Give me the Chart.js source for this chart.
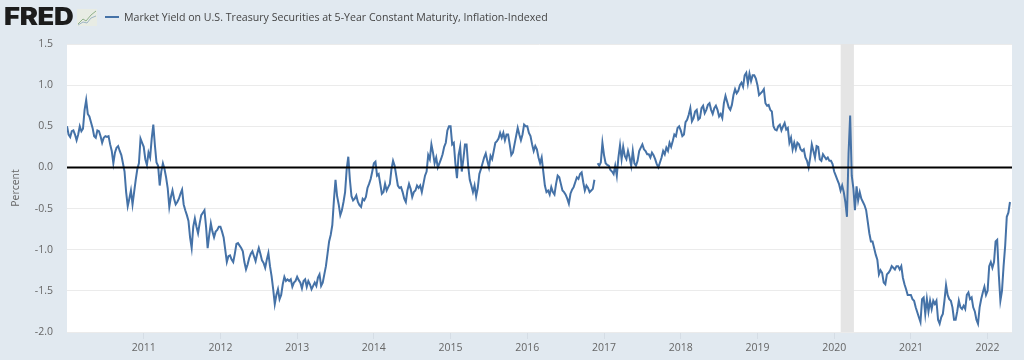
<!DOCTYPE html>
<html>
<head>
<meta charset="utf-8">
<title>Market Yield on U.S. Treasury Securities at 5-Year Constant Maturity, Inflation-Indexed</title>
<script src="https://cdn.jsdelivr.net/npm/chart.js@4/dist/chart.umd.min.js"></script>
<style>
    html, body { margin: 0; padding: 0; background: #e1e9f0; overflow: hidden; }
    #wrap { position: relative; width: 1024px; height: 360px; }
    #chart { position: absolute; left: 0; top: 0; }
    #logo { position: absolute; left: 4px; top: 2px; font: 900 24px Inter, "Liberation Sans", sans-serif; color: #1c1c1c; letter-spacing: -0.3px; line-height: 30px; transform-origin: left top; transform: scaleX(1.14); }
    #icon { position: absolute; left: 77px; top: 9px; }
    #swatch { position: absolute; left: 105px; top: 16px; width: 14px; height: 2px; background: #4572a7; }
    #legend { position: absolute; left: 124px; top: 9px; font: 10.6px "Open Sans", sans-serif; color: #444; line-height: 16px; white-space: nowrap; }
</style>
</head>
<body>
<div id="wrap">
    <canvas id="chart" width="1024" height="360"></canvas>
    <div id="logo">FRED</div>
    <svg id="icon" width="20" height="17">
        <rect width="20" height="17" fill="#e8ece4"/>
        <polyline points="1,15 6,10 9,12 14,6 19,2" fill="none" stroke="#8fb08a" stroke-width="1"/>
        <polyline points="1,16 6,13 10,14 14,9 19,7" fill="none" stroke="#9db5c4" stroke-width="1"/>
    </svg>
    <div id="swatch"></div>
    <div id="legend">Market Yield on U.S. Treasury Securities at 5-Year Constant Maturity, Inflation-Indexed</div>
</div>
<script>
// values, 48 readings per year
const y2010 = [0.50, 0.40, 0.37, 0.44, 0.45, 0.40, 0.33, 0.40, 0.50, 0.44, 0.47, 0.70, 0.82, 0.65, 0.62, 0.55, 0.48, 0.38, 0.36, 0.45, 0.44, 0.38, 0.30, 0.36, 0.38, 0.37, 0.38, 0.28, 0.20, 0.05, 0.18, 0.24, 0.26, 0.20, 0.15, 0.05, -0.05, -0.30, -0.47, -0.38, -0.28, -0.45, -0.30, -0.15, -0.02, 0.05, 0.35, 0.30];
const y2011 = [0.25, 0.10, 0.03, 0.18, 0.12, 0.35, 0.52, 0.27, 0.06, 0.02, -0.22, -0.05, 0.05, -0.02, -0.12, -0.25, -0.48, -0.36, -0.28, -0.38, -0.45, -0.42, -0.38, -0.32, -0.27, -0.45, -0.52, -0.58, -0.65, -0.85, -0.98, -0.72, -0.62, -0.72, -0.80, -0.68, -0.58, -0.55, -0.52, -0.72, -0.98, -0.82, -0.68, -0.78, -0.85, -0.78, -0.76, -0.72];
const y2012 = [-0.72, -0.78, -0.85, -1.00, -1.15, -1.08, -1.07, -1.12, -1.15, -1.05, -0.93, -0.92, -0.95, -0.98, -1.02, -1.15, -1.24, -1.18, -1.10, -1.05, -1.02, -1.08, -1.14, -1.05, -0.98, -1.05, -1.13, -1.16, -1.22, -1.12, -1.04, -1.20, -1.32, -1.48, -1.66, -1.55, -1.48, -1.60, -1.55, -1.42, -1.33, -1.38, -1.36, -1.38, -1.36, -1.45, -1.40, -1.38];
const y2013 = [-1.33, -1.37, -1.40, -1.47, -1.38, -1.36, -1.45, -1.38, -1.42, -1.48, -1.44, -1.40, -1.44, -1.34, -1.30, -1.44, -1.40, -1.30, -1.20, -1.05, -0.90, -0.82, -0.70, -0.40, -0.15, -0.35, -0.45, -0.58, -0.52, -0.42, -0.30, -0.02, 0.13, -0.15, -0.35, -0.40, -0.38, -0.34, -0.42, -0.46, -0.48, -0.38, -0.40, -0.36, -0.25, -0.20, -0.14, -0.05];
const y2014 = [0.05, 0.07, -0.10, -0.08, -0.20, -0.32, -0.30, -0.20, -0.28, -0.24, -0.20, -0.02, 0.08, 0.02, -0.10, -0.22, -0.25, -0.24, -0.30, -0.38, -0.42, -0.28, -0.20, -0.26, -0.36, -0.30, -0.28, -0.22, -0.25, -0.22, -0.30, -0.20, -0.10, -0.05, 0.15, 0.10, 0.28, 0.18, 0.05, 0.12, 0.00, 0.05, 0.10, 0.16, 0.25, 0.30, 0.45, 0.50];
const y2015 = [0.50, 0.28, 0.30, 0.05, -0.13, 0.15, 0.25, -0.05, 0.10, 0.28, 0.28, 0.02, -0.15, -0.22, -0.30, -0.22, -0.35, -0.25, -0.08, -0.02, 0.05, 0.12, 0.17, 0.08, 0.00, 0.14, 0.10, 0.20, 0.30, 0.32, 0.35, 0.42, 0.36, 0.42, 0.33, 0.40, 0.40, 0.28, 0.15, 0.18, 0.28, 0.38, 0.48, 0.40, 0.33, 0.40, 0.52, 0.50];
const y2016 = [0.50, 0.42, 0.38, 0.28, 0.20, 0.26, 0.22, 0.12, 0.05, 0.12, -0.05, -0.22, -0.30, -0.28, -0.33, -0.24, -0.30, -0.33, -0.20, -0.10, -0.12, -0.20, -0.28, -0.30, -0.33, -0.38, -0.44, -0.32, -0.27, -0.24, -0.18, -0.12, -0.14, -0.08, -0.06, -0.18, -0.28, -0.22, -0.25, -0.30, -0.28, -0.26, -0.15, null, 0.05, 0.02, 0.06, 0.30];
const y2017 = [0.15, 0.05, 0.03, 0.02, -0.03, -0.05, -0.08, 0.02, -0.10, 0.12, 0.27, 0.10, 0.25, 0.14, 0.10, 0.20, 0.12, 0.02, 0.20, 0.05, 0.02, 0.08, 0.20, 0.24, 0.28, 0.22, 0.20, 0.16, 0.16, 0.12, 0.18, 0.15, 0.10, 0.04, 0.00, 0.06, 0.12, 0.20, 0.16, 0.24, 0.20, 0.30, 0.25, 0.32, 0.40, 0.38, 0.48, 0.50];
const y2018 = [0.45, 0.38, 0.40, 0.55, 0.58, 0.64, 0.72, 0.56, 0.60, 0.68, 0.70, 0.58, 0.60, 0.72, 0.75, 0.66, 0.70, 0.76, 0.78, 0.70, 0.65, 0.72, 0.75, 0.70, 0.62, 0.65, 0.60, 0.78, 0.87, 0.80, 0.73, 0.70, 0.76, 0.88, 0.95, 0.90, 0.93, 1.00, 1.03, 0.98, 1.12, 1.15, 1.02, 1.14, 1.05, 1.12, 1.12, 1.08];
const y2019 = [1.00, 0.88, 0.90, 0.92, 0.95, 0.78, 0.75, 0.76, 0.70, 0.68, 0.50, 0.46, 0.45, 0.50, 0.52, 0.45, 0.50, 0.54, 0.46, 0.48, 0.30, 0.36, 0.22, 0.30, 0.22, 0.30, 0.28, 0.22, 0.20, 0.22, 0.12, 0.08, 0.00, 0.12, 0.28, 0.20, 0.12, 0.26, 0.25, 0.10, 0.08, 0.16, 0.13, 0.10, 0.12, 0.08, 0.08, 0.04];
const y2020 = [-0.05, -0.10, -0.15, -0.20, -0.28, -0.22, -0.30, -0.42, -0.60, 0.17, 0.63, -0.10, -0.25, -0.52, -0.23, -0.40, -0.30, -0.38, -0.42, -0.46, -0.52, -0.66, -0.80, -0.90, -0.90, -0.98, -1.06, -1.12, -1.30, -1.25, -1.28, -1.40, -1.42, -1.30, -1.28, -1.25, -1.20, -1.22, -1.24, -1.20, -1.20, -1.24, -1.20, -1.34, -1.42, -1.48, -1.55, -1.55];
const y2021 = [-1.55, -1.60, -1.62, -1.70, -1.76, -1.82, -1.88, -1.60, -1.58, -1.78, -1.60, -1.75, -1.62, -1.72, -1.62, -1.66, -1.62, -1.85, -1.90, -1.82, -1.78, -1.62, -1.43, -1.55, -1.60, -1.62, -1.70, -1.85, -1.85, -1.75, -1.62, -1.70, -1.72, -1.68, -1.72, -1.55, -1.52, -1.60, -1.58, -1.70, -1.75, -1.85, -1.90, -1.70, -1.60, -1.52, -1.45, -1.55];
const y2022 = [-1.50, -1.20, -1.15, -1.22, -1.15, -0.90, -0.88, -1.30, -1.62, -1.50, -1.20, -0.95, -0.60, -0.55, -0.42];

const yearList = [2010, 2011, 2012, 2013, 2014, 2015, 2016, 2017, 2018, 2019, 2020, 2021, 2022];
const yearValues = [y2010, y2011, y2012, y2013, y2014, y2015, y2016, y2017, y2018, y2019, y2020, y2021, y2022];
const tickYears = [2011, 2012, 2013, 2014, 2015, 2016, 2017, 2018, 2019, 2020, 2021, 2022];
const recession = [2020.085, 2020.257];
const seriesName = 'Market Yield on U.S. Treasury Securities at 5-Year Constant Maturity, Inflation-Indexed';

const points = yearList.flatMap((year, i) => yearValues[i].map((v, j) => ({ x: year + j / 48, y: v })));

// grey recession band, under the line
const recessionBand = {
    id: 'recessionBand',
    beforeDatasetsDraw(chart) {
        const { ctx, chartArea, scales } = chart;
        const left = scales.x.getPixelForValue(recession[0]);
        const right = scales.x.getPixelForValue(recession[1]);
        ctx.save();
        ctx.fillStyle = '#e5e5e5';
        ctx.fillRect(left, chartArea.top, right - left, chartArea.bottom - chartArea.top);
        ctx.restore();
    }
};

// white plot area behind the grid
const plotBackground = {
    id: 'plotBackground',
    beforeDraw(chart) {
        const { ctx, chartArea } = chart;
        ctx.save();
        ctx.fillStyle = '#ffffff';
        ctx.fillRect(chartArea.left, chartArea.top, chartArea.right - chartArea.left, chartArea.bottom - chartArea.top);
        ctx.restore();
    }
};

const ctx = document.getElementById('chart').getContext('2d');
new Chart(ctx, {
    type: 'line',
    data: {
        datasets: [
            {
                label: 'Zero',
                data: [{ x: 2010, y: 0 }, { x: 2022.318, y: 0 }],
                borderColor: '#000000',
                borderWidth: 2,
                pointRadius: 0
            },
            {
                label: seriesName,
                data: points,
                borderColor: '#4572a7',
                borderWidth: 2,
                pointRadius: 0,
                tension: 0,
                spanGaps: false
            }
        ]
    },
    options: {
        responsive: false,
        animation: false,
        layout: { padding: { top: 44, right: 12, left: 0, bottom: 0 } },
        plugins: { legend: { display: false }, tooltip: { enabled: false } },
        scales: {
            x: {
                type: 'linear',
                min: 2010,
                max: 2022.318,
                afterBuildTicks: scale => { scale.ticks = tickYears.map(v => ({ value: v })); },
                afterFit: scale => { scale.height = 28; },
                border: { display: false },
                grid: { drawOnChartArea: false, color: '#d5dde5', tickLength: 7 },
                ticks: {
                    autoSkip: false,
                    maxRotation: 0,
                    padding: 3,
                    color: '#666666',
                    font: { family: '"Open Sans"', size: 10.5 },
                    callback: v => String(v)
                }
            },
            y: {
                min: -2,
                max: 1.5,
                afterFit: scale => { scale.width = 67; },
                border: { display: false },
                grid: { color: '#ebebeb', drawTicks: false },
                ticks: {
                    stepSize: 0.5,
                    padding: 14,
                    color: '#666666',
                    font: { family: '"Open Sans"', size: 10.5 },
                    callback: v => v.toFixed(1)
                },
                title: {
                    display: true,
                    text: 'Percent',
                    color: '#666666',
                    padding: { top: 10, bottom: 0 },
                    font: { family: '"Open Sans"', size: 10.5 }
                }
            }
        }
    },
    plugins: [plotBackground, recessionBand]
});
</script>
</body>
</html>
